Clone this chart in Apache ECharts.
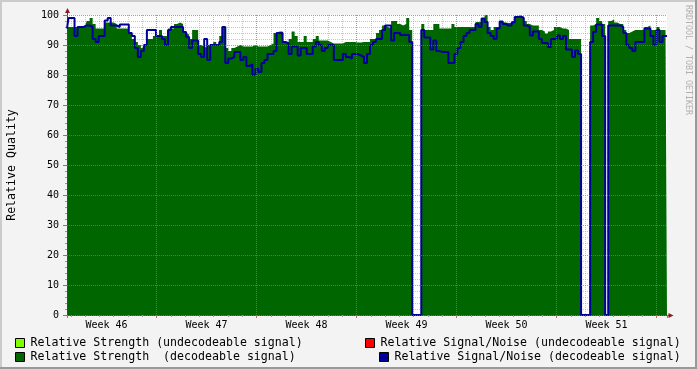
<!DOCTYPE html>
<html><head><meta charset="utf-8">
<script src="https://cdn.jsdelivr.net/npm/echarts@6/dist/echarts.min.js"></script>
<style>html,body{margin:0;padding:0;background:#f3f3f3}#c{width:697px;height:369px}</style>
</head><body><div id="c"></div>
<script>
// ---- data (one sample every ~5 hours) ----
const strengthDecodeable = [
96,96,96,96,96,96,96,98,99,97,
95.5,95.5,95.5,97.5,97.5,97.5,97,95.5,95.5,95.5,
95.5,94,92,91,90,89,90,92,92,93,
93,95,93,93,95.5,95.5,97,97.5,97,94,
93.5,92,95,95,90,89.5,89,90,90,91,
90,93,96,89,88,89,89.5,90,89.5,89.5,
89.5,89.5,90,89.5,89.5,89.5,89.5,90,90.5,94,
94.5,94.5,91,91,92,94.5,93,91,91,93,
91,91,92,93,91.5,91.5,91.5,91,90.5,90.5,
90.5,90.5,91,91,91,91,90.8,90.8,91,91,
91,92,92,94,95,96.5,96,95.5,98,98,
97,96.5,97,99,95,0,0,0,97,95,
95,95,97,97,95.5,95.5,95.5,95.5,97,96,
96,96,96,96,96,96,97.7,97.7,99,100,
96,95,96,96,97.7,97.5,97.3,97.3,98,99.5,
99.5,99.5,98,97,96.5,96.5,96.5,95,94.5,93.8,
94.5,95,96,96,95.5,95.5,95,92,92,92,
92,0,0,0,96.5,97,99,98,97,0,
98,98.5,97.5,97,97,95,94,94.5,95,95,
95,95,96,96.5,95,95,96,95,95,95
];
const snrDecodeable = [
95.5,99,99,93,96,96,96.5,96.5,96,92,
91,93,93,98.2,99,96.5,96.5,96,96.8,96.8,
96.8,94,93,89,86,88,90,95,95,95,
93,93,92,90,95,96,96,96,96,94.3,
92.7,89,91.5,91.5,87,86,92,85,90,90,
90,91,96,84,85.5,86,87.7,87.7,85,86,
83,83.5,80,82,81,84,85,87,87,88,
94,94,91,90.5,87,89.5,89.5,86.5,89,89,
87,87,89.5,91,90,88,89,90,90,85,
85,85,87,86,85.5,87,87,86.5,86,84,
87,90,91,92,92,95,96.5,96.5,91.5,94,
94,93.3,93.3,93.3,91,0,0,0,95,92.5,
92.5,88.5,91.5,88,87.7,87.7,87.7,84,84,87,
89,91,93,94,95,95,97,96,98.8,97.7,
94,93,92,95.5,97.8,97,96.5,96.5,97.5,99.3,
99.5,99,96.5,96,93.2,94.5,94.5,92,90.7,90.7,
89.3,92,92,93.2,92,93,88.5,88.5,86,88.2,
87,0,0,0,91,94.3,96.8,96.8,93,0,
96.5,96.5,96.5,96.5,96,94,90,89,88,91,
91,91,95.5,95.5,93,90,95,91,93,93
];
const strengthUndecodeable = [];
const snrUndecodeable = [];
const weekLabels = ['Week 46','Week 47','Week 48','Week 49','Week 50','Week 51'];
const seriesNames = [
  'Relative Strength (undecodeable signal)',
  'Relative Strength  (decodeable signal)',
  'Relative Signal/Noise (undecodeable signal)',
  'Relative Signal/Noise (decodeable signal)'
];
const sampleHours = 5.04;
const sampleTimes = strengthDecodeable.map((_, i) => (i * sampleHours).toFixed(1));

// ---- time frame ----
const DAY_OFFSET = 0.265;           // plot begins this far before the first day line
const DAYS = 42;
const dayMin = -DAY_OFFSET, dayMax = DAYS - DAY_OFFSET;
const WEEK47_DAY = 6;
const weekMin = (dayMin - WEEK47_DAY) / 7, weekMax = (dayMax - WEEK47_DAY) / 7;

const FONT = 'DejaVu Sans Mono';
const minorGrid = 'rgba(160,160,160,0.6)';
const majorGrid = 'rgba(230,100,100,0.6)';

const chart = echarts.init(document.getElementById('c'), null, {renderer: 'canvas'});
const legendCommon = {
  orient: 'horizontal', itemWidth: 9, itemHeight: 9, itemGap: 0, padding: 0,
  icon: 'rect', selectedMode: false,
  itemStyle: {borderColor: '#000', borderWidth: 1},
  textStyle: {fontFamily: FONT, fontSize: 11.6, color: '#000', padding: [0,0,0,1]}
};
chart.setOption({
  animation: false,
  backgroundColor: '#f3f3f3',
  grid: {left: 67, top: 15, width: 600, height: 300, show: true, backgroundColor: '#fff', borderWidth: 0,
         containLabel: false, outerBoundsMode: 'none'},
  legend: [
    Object.assign({left: 15, top: 337, data: [seriesNames[0]]}, legendCommon),
    Object.assign({left: 15, top: 351, data: [seriesNames[1]]}, legendCommon),
    Object.assign({left: 365, top: 337, data: [seriesNames[2]]}, legendCommon),
    Object.assign({left: 379, top: 351, data: [seriesNames[3]]}, legendCommon)
  ],
  xAxis: [
    {type: 'category', position: 'bottom', data: sampleTimes, boundaryGap: false, show: false},
    {type: 'value', position: 'bottom', min: dayMin, max: dayMax, minInterval: 1, maxInterval: 1, splitNumber: DAYS, z: 3,
     axisLine: {show: true, onZero: false, lineStyle: {color: '#444', width: 1}},
     axisTick: {show: true, length: 2, lineStyle: {color: '#999'}},
     axisLabel: {show: false},
     splitLine: {show: true, showMinLine: false, showMaxLine: false, lineStyle: {color: minorGrid, type: [1,1], width: 1}}},
    {type: 'value', position: 'bottom', min: weekMin, max: weekMax, minInterval: 1, maxInterval: 1, splitNumber: 6, z: 4,
     axisLine: {show: false, onZero: false},
     axisTick: {show: true, length: 3, lineStyle: {color: '#d06060'}},
     axisLabel: {show: false},
     splitLine: {show: true, showMinLine: false, showMaxLine: false, lineStyle: {color: majorGrid, type: [1,1], width: 1}}},
    {type: 'value', position: 'bottom', min: weekMin + 0.5, max: weekMax + 0.5, minInterval: 1, maxInterval: 1, splitNumber: 6, z: 4,
     axisLine: {show: false, onZero: false}, axisTick: {show: false}, splitLine: {show: false},
     axisLabel: {show: true, margin: 5, fontFamily: FONT, fontSize: 10, color: '#000',
       showMinLabel: false, showMaxLabel: false,
       formatter: v => (Number.isInteger(v) && weekLabels[v]) ? weekLabels[v] : ''}}
  ],
  yAxis: [
    {type: 'value', position: 'left', min: 0, max: 100, interval: 10, z: 4,
     name: 'Relative Quality', nameLocation: 'middle', nameGap: 49, nameRotate: 90,
     nameTextStyle: {fontFamily: FONT, fontSize: 11.6, color: '#000'},
     axisLine: {show: false, onZero: false},
     axisTick: {show: true, length: 4, lineStyle: {color: '#c06060'}},
     axisLabel: {show: true, margin: 8, fontFamily: FONT, fontSize: 10, color: '#000'},
     splitLine: {show: true, lineStyle: {color: majorGrid, type: [1,1], width: 1}}},
    {type: 'value', position: 'left', min: 0, max: 100, interval: 2, z: 3,
     axisLine: {show: true, onZero: false, lineStyle: {color: '#444', width: 1}},
     axisTick: {show: true, length: 2, lineStyle: {color: '#999'}},
     axisLabel: {show: false},
     splitLine: {show: true, lineStyle: {color: minorGrid, type: [1,1], width: 1}}}
  ],
  series: [
    {name: seriesNames[0], type: 'line', xAxisIndex: 0, yAxisIndex: 0, data: strengthUndecodeable,
     step: 'middle', symbol: 'none', color: '#80ff00', lineStyle: {width: 0}, areaStyle: {color: '#80ff00', opacity: 1}},
    {name: seriesNames[1], type: 'line', xAxisIndex: 0, yAxisIndex: 0, data: strengthDecodeable,
     step: 'middle', symbol: 'none', color: '#006600', lineStyle: {width: 0}, areaStyle: {color: '#006600', opacity: 1}},
    {name: seriesNames[2], type: 'line', xAxisIndex: 0, yAxisIndex: 0, data: snrUndecodeable,
     step: 'middle', symbol: 'none', color: '#ff0000', lineStyle: {width: 2, color: '#ff0000'}},
    {name: seriesNames[3], type: 'line', xAxisIndex: 0, yAxisIndex: 0, data: snrDecodeable,
     step: 'middle', symbol: 'none', color: '#000099', lineStyle: {width: 2, color: '#000099'}}
  ],
  graphic: [
    {type: 'rect', shape: {x: 0, y: 0, width: 697, height: 2}, style: {fill: '#cbcbcb'}, silent: true},
    {type: 'rect', shape: {x: 0, y: 0, width: 2, height: 369}, style: {fill: '#cbcbcb'}, silent: true},
    {type: 'rect', shape: {x: 0, y: 367, width: 697, height: 2}, style: {fill: '#999'}, silent: true},
    {type: 'rect', shape: {x: 695, y: 0, width: 2, height: 369}, style: {fill: '#999'}, silent: true},
    {type: 'line', shape: {x1: 67.5, y1: 15, x2: 67.5, y2: 12}, style: {stroke: '#444', lineWidth: 1}, silent: true},
    {type: 'line', shape: {x1: 667, y1: 315.5, x2: 669, y2: 315.5}, style: {stroke: '#444', lineWidth: 1}, silent: true},
    {type: 'polygon', shape: {points: [[67.5, 8], [65, 13], [70, 13]]}, style: {fill: '#8b1a1a'}, silent: true},
    {type: 'polygon', shape: {points: [[673.5, 315.5], [668.5, 313], [668.5, 318]]}, style: {fill: '#8b1a1a'}, silent: true},
    {type: 'text', x: 688, y: 5, rotation: -Math.PI / 2, silent: true,
     style: {text: 'RRDTOOL / TOBI OETIKER', fontFamily: FONT, fontSize: 8.3, fill: '#b0b0b0', align: 'left', verticalAlign: 'middle'}}
  ]
});
</script></body></html>
